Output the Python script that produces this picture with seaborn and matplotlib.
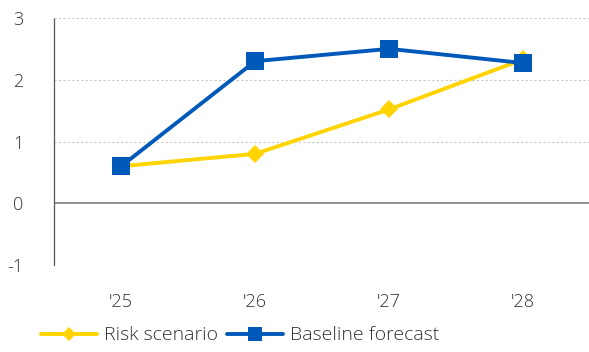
import seaborn as sns
import pandas as pd
import matplotlib.pyplot as plt
from matplotlib.lines import Line2D

years = ["'25", "'26", "'27", "'28"]
risk = [0.6, 0.8, 1.52, 2.33]
baseline = [0.6, 2.3, 2.5, 2.27]

sns.set_style("white")
plt.rcParams['font.family'] = ['Open Sans', 'DejaVu Sans']
plt.rcParams['axes.unicode_minus'] = False

pos = list(range(len(years)))
risk_df = pd.DataFrame({"pos": pos, "value": risk})
base_df = pd.DataFrame({"pos": pos, "value": baseline})

yellow = "#FFD400"
blue = "#0059B9"
txt = "#333333"

fig = plt.figure(figsize=(5.89, 3.52), dpi=100)
ax = fig.add_axes([0.092, 0.247, 0.91, 0.702])

ax.axhline(0, color="#7f7f7f", lw=1.2, zorder=1)
for v in [-1, 1, 2, 3]:
    ax.axhline(v, color="#c8c8c8", lw=0.8, ls=(0, (2, 2)), zorder=0)

sns.lineplot(x="pos", y="value", data=risk_df, color=yellow, marker="D",
             markersize=9, markeredgewidth=0, linewidth=2.8, ax=ax, zorder=3)
sns.lineplot(x="pos", y="value", data=base_df, color=blue, marker="s",
             markersize=12.5, markeredgewidth=0, linewidth=2.8, ax=ax, zorder=4)

ax.set_xlim(-0.5, 3.5)
ax.set_ylim(-1, 3)
ax.set_xticks(pos)
ax.set_xticklabels(years)
ax.set_yticks([-1, 0, 1, 2, 3])
ax.set_xlabel("")
ax.set_ylabel("")
for s in ["top", "right", "bottom"]:
    ax.spines[s].set_visible(False)
ax.spines["left"].set_color("#555555")
ax.spines["left"].set_linestyle((0, (1, 1)))
ax.spines["left"].set_linewidth(0.9)
ax.tick_params(axis="y", direction="in", length=6, width=1, color="#333333",
               labelsize=13, labelcolor=txt, pad=22)
ax.tick_params(axis="x", length=0, labelsize=13, labelcolor=txt, pad=20)
for lab in ax.get_xticklabels() + ax.get_yticklabels():
    lab.set_fontweight("light")

handles = [
    Line2D([], [], color=yellow, marker="D", markersize=7, markeredgewidth=0, lw=2.8),
    Line2D([], [], color=blue, marker="s", markersize=10, markeredgewidth=0, lw=2.8),
]
leg = ax.legend(handles, ["Risk scenario", "Baseline forecast"], loc="center left",
                bbox_to_anchor=(-0.058, -0.285), ncol=2, frameon=False,
                handlelength=2.9, handletextpad=0.35,
                columnspacing=0.45, labelcolor=txt,
                prop={"size": 14, "weight": "light"})

fig.savefig("out.png", dpi=100)
